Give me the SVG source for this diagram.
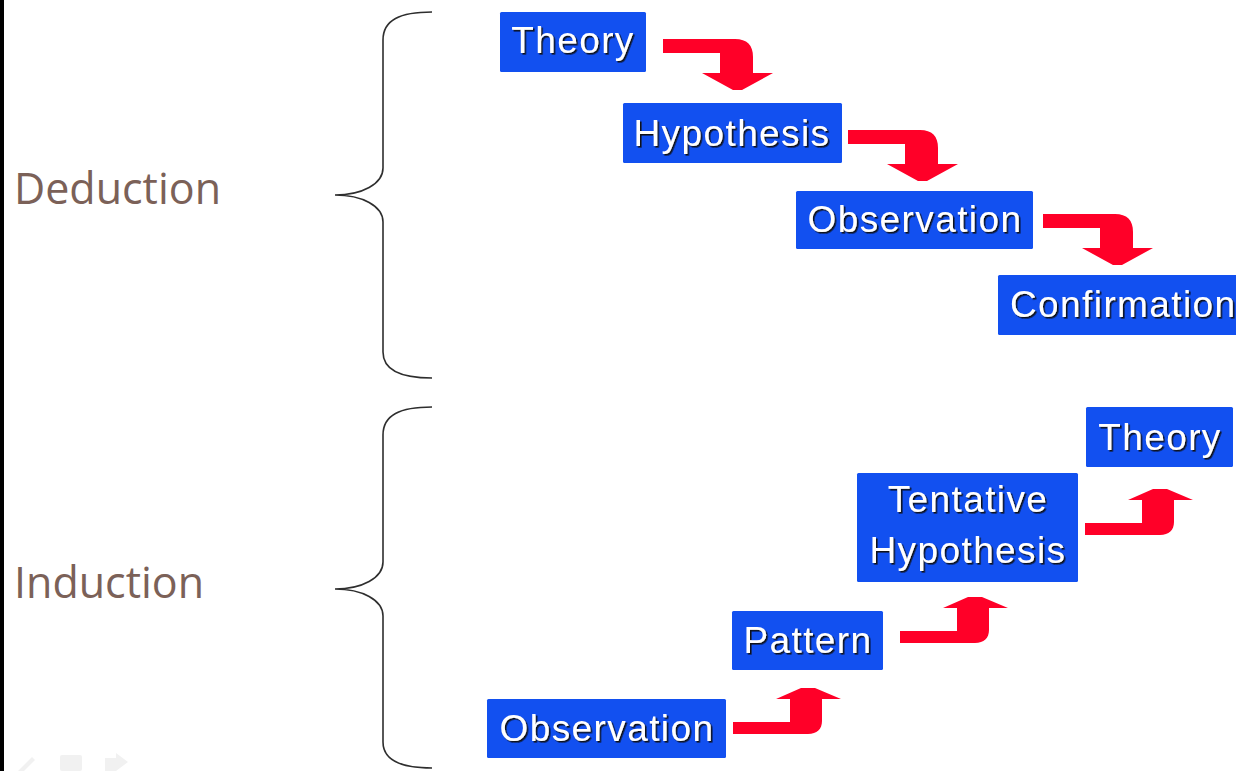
<svg xmlns="http://www.w3.org/2000/svg" width="1236" height="771" viewBox="0 0 1236 771">
  <style>
    .box { fill: #1250F0; }
    .lbl { font-family: "Liberation Sans", Arial, sans-serif; font-size: 37px; letter-spacing: 1.4px; fill: #FFFFFF; filter: url(#shadow); }
    .mid { text-anchor: middle; }
    .side { font-family: "Open Sans", "Noto Sans", sans-serif; font-size: 43px; fill: #7B6158; }
    .brace { fill: none; stroke: #2E2E2E; stroke-width: 1.6; }
    .arrow { fill: #FF0028; }
    .icon { fill: #F1F1F1; }
  </style>
  <defs>
    <filter id="shadow" x="-10%" y="-20%" width="130%" height="150%">
      <feDropShadow dx="1.6" dy="1.6" stdDeviation="0.5" flood-color="#111111" flood-opacity="0.95"/>
    </filter>
    <!-- bent arrow turning downwards, origin at top-left of the shaft -->
    <path id="turnDown" d="M0,0 H72 C84,0 90,6 90,18 V34 H110 L79,51 H70 L39,34 H57 V14 H0 Z"/>
    <!-- bent arrow turning upwards, origin at bottom-left of the shaft -->
    <path id="turnUp" d="M0,0 V-12 H57 V-35 H43 L68,-46 H82 L108,-35 H89 V-13 C89,-5 84,0 75,0 Z"/>
  </defs>

  <rect x="0" y="0" width="1236" height="771" fill="#FFFFFF"/>
  <rect x="0" y="0" width="4" height="771" fill="#000000"/>

  <!-- side labels and braces -->
  <g id="deduction">
    <text class="side" x="14" y="204">Deduction</text>
    <path class="brace" d="M432,12 C400,12 383,20 383,40 L383,168 C383,184 362,195 335,195 C362,195 383,206 383,222 L383,352 C383,370 400,378 432,378"/>
  </g>
  <g id="induction">
    <text class="side" x="14" y="598">Induction</text>
    <path class="brace" d="M432,407 C400,407 383,415 383,435 L383,562 C383,578 362,589 335,589 C362,589 383,600 383,616 L383,742 C383,760 400,768 432,768"/>
  </g>

  <!-- deduction chain -->
  <g id="d-theory">
    <rect class="box" x="500" y="12" width="146" height="60" rx="1.5"/>
    <text class="lbl mid" x="573" y="53">Theory</text>
  </g>
  <g id="d-hypothesis">
    <rect class="box" x="623" y="103" width="219" height="60" rx="1.5"/>
    <text class="lbl mid" x="732" y="146">Hypothesis</text>
  </g>
  <g id="d-observation">
    <rect class="box" x="796" y="191" width="237" height="58" rx="1.5"/>
    <text class="lbl mid" x="915" y="232">Observation</text>
  </g>
  <g id="d-confirmation">
    <rect class="box" x="998" y="275" width="240" height="60" rx="1.5"/>
    <text class="lbl" x="1010" y="317">Confirmation</text>
  </g>

  <!-- induction chain -->
  <g id="i-observation">
    <rect class="box" x="487" y="699" width="239" height="59" rx="1.5"/>
    <text class="lbl mid" x="607" y="741">Observation</text>
  </g>
  <g id="i-pattern">
    <rect class="box" x="732" y="611" width="151" height="59" rx="1.5"/>
    <text class="lbl mid" x="808" y="653">Pattern</text>
  </g>
  <g id="i-tentative">
    <rect class="box" x="857" y="473" width="221" height="109" rx="1.5"/>
    <text class="lbl mid" x="968" y="512">Tentative</text>
    <text class="lbl mid" x="968" y="563">Hypothesis</text>
  </g>
  <g id="i-theory">
    <rect class="box" x="1086" y="407" width="147" height="60" rx="1.5"/>
    <text class="lbl mid" x="1160" y="450">Theory</text>
  </g>

  <!-- connectors -->
  <g id="connectors" class="arrow">
    <use href="#turnDown" transform="translate(663,39)"/>
    <use href="#turnDown" transform="translate(848,130)"/>
    <use href="#turnDown" transform="translate(1043,214)"/>
    <use href="#turnUp" transform="translate(733,734)"/>
    <use href="#turnUp" transform="translate(900,643)"/>
    <use href="#turnUp" transform="translate(1085,535)"/>
  </g>

  <!-- faint slideshow controls -->
  <g id="controls" class="icon">
    <path d="M18,771 L32,757 L35,760 L24,771 Z"/>
    <rect x="60" y="755" width="22" height="16" rx="2"/>
    <path d="M105,758 H116 V753 L128,762 L116,771 H105 Z"/>
  </g>
</svg>
